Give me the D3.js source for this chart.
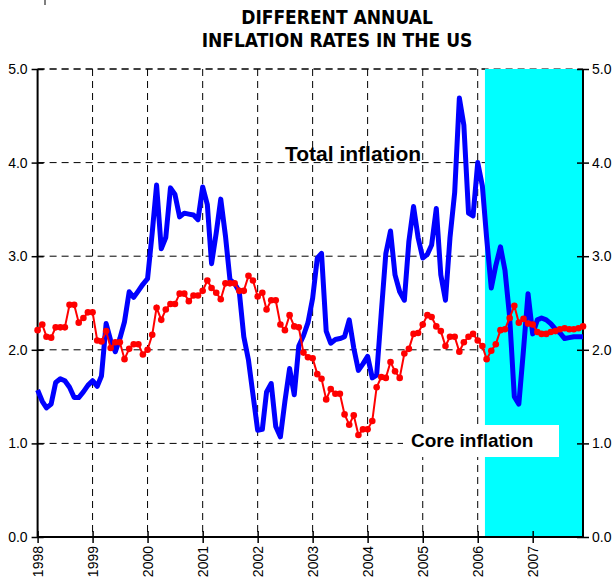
<!DOCTYPE html>
<meta charset="utf-8">
<style>
body { margin: 0; background: #fff; }
text { font-family: Arial, "Liberation Sans", sans-serif; }
</style>
<body>
<script src="https://d3js.org/d3.v7.min.js"></script>
<script>
var width = 615,
	height = 581,
	plotLeft = 37.6,
	plotRight = 583,
	plotTop = 69,
	plotBottom = 537;

// monthly observations, Jan 1998 .. Dec 2007
var startYear = 1998;
var total = [
	1.57, 1.45, 1.38, 1.42, 1.65, 1.69, 1.67, 1.60, 1.49, 1.49, 1.55, 1.62,
	1.67, 1.61, 1.72, 2.28, 2.10, 1.98, 2.12, 2.30, 2.62, 2.56, 2.63, 2.70,
	2.76, 3.25, 3.76, 3.08, 3.20, 3.73, 3.66, 3.42, 3.46, 3.45, 3.44, 3.39,
	3.74, 3.55, 2.92, 3.25, 3.61, 3.22, 2.75, 2.71, 2.62, 2.14, 1.89, 1.52,
	1.14, 1.15, 1.55, 1.64, 1.18, 1.07, 1.45, 1.80, 1.52, 2.04, 2.15, 2.29,
	2.55, 2.98, 3.03, 2.20, 2.07, 2.11, 2.12, 2.14, 2.32, 2.02, 1.78, 1.85,
	1.93, 1.70, 1.73, 2.40, 3.03, 3.27, 2.80, 2.62, 2.53, 3.16, 3.53, 3.20,
	2.98, 3.02, 3.12, 3.51, 2.80, 2.53, 3.20, 3.68, 4.69, 4.40, 3.46, 3.43,
	4.00, 3.75, 3.20, 2.66, 2.90, 3.10, 2.85, 2.35, 1.50, 1.42, 2.00, 2.60,
	2.17, 2.32, 2.34, 2.32, 2.28, 2.22, 2.18, 2.12, 2.13, 2.14, 2.14, 2.14
];
var core = [
	2.21, 2.27, 2.14, 2.13, 2.24, 2.24, 2.24, 2.48, 2.48, 2.29, 2.34, 2.40,
	2.40, 2.10, 2.09, 2.20, 2.02, 2.08, 2.08, 1.90, 2.01, 2.06, 2.06, 1.95,
	2.00, 2.16, 2.45, 2.32, 2.43, 2.49, 2.49, 2.60, 2.60, 2.52, 2.58, 2.58,
	2.63, 2.74, 2.66, 2.61, 2.54, 2.71, 2.71, 2.71, 2.63, 2.63, 2.79, 2.74,
	2.57, 2.61, 2.43, 2.53, 2.53, 2.27, 2.21, 2.37, 2.25, 2.24, 1.97, 1.92,
	1.91, 1.74, 1.69, 1.47, 1.58, 1.53, 1.53, 1.31, 1.20, 1.30, 1.09, 1.15,
	1.15, 1.24, 1.60, 1.71, 1.70, 1.87, 1.77, 1.70, 1.96, 2.01, 2.17, 2.18,
	2.27, 2.37, 2.35, 2.25, 2.20, 2.04, 2.14, 2.14, 1.98, 2.08, 2.14, 2.17,
	2.10, 2.04, 1.90, 1.99, 2.06, 2.21, 2.22, 2.34, 2.47, 2.29, 2.33, 2.28,
	2.27, 2.19, 2.17, 2.17, 2.19, 2.20, 2.22, 2.23, 2.22, 2.22, 2.23, 2.25
];
var years = [1998, 1999, 2000, 2001, 2002, 2003, 2004, 2005, 2006, 2007];
var yTicks = [0, 1, 2, 3, 4, 5];
var forecastStart = new Date(2006, 1, 18);
var titleLines = ["DIFFERENT ANNUAL", "INFLATION RATES IN THE US"];

var months = total.map(function(d, i) { return new Date(startYear, i, 1); });

var x = d3.scaleTime()
	.domain([new Date(startYear, 0, 1), new Date(startYear, total.length - 1, 1)])
	.range([plotLeft, plotRight]);
var y = d3.scaleLinear().domain([0, 5]).range([plotBottom, plotTop]);

var svg = d3.select("body").append("svg")
	.attr("width", width)
	.attr("height", height);

// stray mark in the corner of the original
svg.append("line")
	.attr("x1", 45).attr("x2", 45).attr("y1", 0).attr("y2", 5)
	.style("stroke", "#000");

// title
svg.append("g").selectAll("text")
	.data(titleLines)
	.enter().append("text")
	.attr("x", 337)
	.attr("y", function(d, i) { return 24 + i * 23; })
	.attr("text-anchor", "middle")
	.style("font-family", "Tahoma, 'DejaVu Sans Condensed', 'DejaVu Sans', sans-serif")
	.style("font-weight", "bold")
	.style("font-size", "19px")
	.text(function(d) { return d; });

// dashed grid
var grid = svg.append("g")
	.style("stroke", "#000")
	.style("stroke-width", 1)
	.style("stroke-dasharray", "7,5");
grid.selectAll(".h")
	.data(yTicks.filter(function(d) { return d > 0; }))
	.enter().append("line")
	.attr("x1", plotLeft).attr("x2", plotRight)
	.attr("y1", function(d) { return y(d); })
	.attr("y2", function(d) { return y(d); });
grid.selectAll(".v")
	.data(years.slice(1))
	.enter().append("line")
	.attr("x1", function(d) { return x(new Date(d, 0, 1)); })
	.attr("x2", function(d) { return x(new Date(d, 0, 1)); })
	.attr("y1", plotTop).attr("y2", plotBottom);

// forecast band
svg.append("rect")
	.attr("x", x(forecastStart))
	.attr("y", plotTop)
	.attr("width", plotRight - x(forecastStart))
	.attr("height", plotBottom - plotTop)
	.style("fill", "#00ffff");

// label box for core inflation
svg.append("rect")
	.attr("x", 403).attr("y", 425)
	.attr("width", 156).attr("height", 32)
	.style("fill", "#fff");

// axes
var yLeft = svg.append("g")
	.attr("transform", "translate(" + plotLeft + ",0)")
	.call(d3.axisLeft(y).tickValues(yTicks).tickFormat(d3.format(".1f")).tickSize(6).tickPadding(4));
var yRight = svg.append("g")
	.attr("transform", "translate(" + plotRight + ",0)")
	.call(d3.axisRight(y).tickValues(yTicks).tickFormat(d3.format(".1f")).tickSize(6).tickPadding(3));
var xAxis = svg.append("g")
	.attr("transform", "translate(0," + plotBottom + ")")
	.call(d3.axisBottom(x)
		.tickValues(years.map(function(d) { return new Date(d, 0, 1); }))
		.tickFormat(d3.timeFormat("%Y"))
		.tickSize(6));

yLeft.selectAll(".tick line").attr("x1", 6);
yRight.selectAll(".tick line").attr("x1", -6);
xAxis.selectAll(".tick line").attr("y1", -6);
xAxis.selectAll(".tick text")
	.attr("transform", "rotate(-90)")
	.attr("text-anchor", "end")
	.attr("x", -9)
	.attr("y", 0)
	.attr("dy", "0.35em");

[yLeft, yRight, xAxis].forEach(function(g) {
	g.select(".domain").attr("d", null);
	g.selectAll(".tick line").style("stroke", "#000").style("stroke-width", 1.5);
	g.selectAll(".tick text").style("font-size", "14px").style("fill", "#000");
});

svg.append("line")
	.attr("x1", plotLeft).attr("x2", plotLeft).attr("y1", plotTop).attr("y2", plotBottom)
	.style("stroke", "#000").style("stroke-width", 2);
svg.append("line")
	.attr("x1", plotRight).attr("x2", plotRight).attr("y1", plotTop).attr("y2", plotBottom)
	.style("stroke", "#000").style("stroke-width", 2);
svg.append("line")
	.attr("x1", plotLeft).attr("x2", plotRight).attr("y1", plotBottom).attr("y2", plotBottom)
	.style("stroke", "#000").style("stroke-width", 2);
svg.append("line")
	.attr("x1", plotLeft).attr("x2", x(forecastStart)).attr("y1", plotTop).attr("y2", plotTop)
	.style("stroke", "#000").style("stroke-width", 1)
	.style("stroke-dasharray", "7,5");

// series
var line = d3.line()
	.x(function(d, i) { return x(months[i]); })
	.y(function(d) { return y(d); });

svg.append("path")
	.datum(total)
	.attr("d", line)
	.style("fill", "none")
	.style("stroke", "#0000ff")
	.style("stroke-width", 5)
	.style("stroke-linejoin", "round");

svg.append("path")
	.datum(core)
	.attr("d", line)
	.style("fill", "none")
	.style("stroke", "#ff0000")
	.style("stroke-width", 2);

svg.append("g").selectAll("circle")
	.data(core)
	.enter().append("circle")
	.attr("cx", function(d, i) { return x(months[i]); })
	.attr("cy", function(d) { return y(d); })
	.attr("r", 3.3)
	.style("fill", "#ff0000");

// labels
svg.append("text")
	.attr("x", 285).attr("y", 161)
	.style("font-weight", "bold")
	.style("font-size", "21px")
	.text("Total inflation");
svg.append("text")
	.attr("x", 411).attr("y", 447)
	.style("font-weight", "bold")
	.style("font-size", "19px")
	.text("Core inflation");
</script>
</body>
